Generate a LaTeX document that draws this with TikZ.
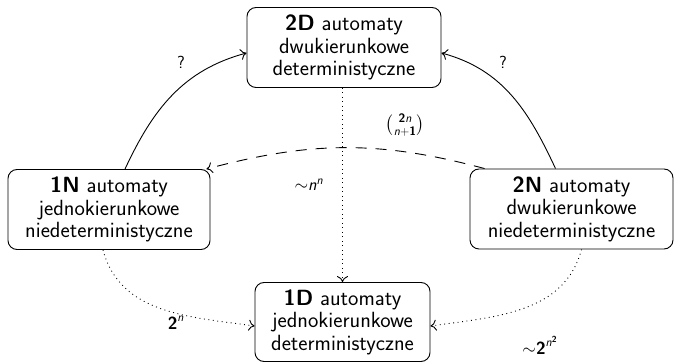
\RequirePackage{fix-cm}
\documentclass[tikz,border=0pt]{standalone}
\usepackage{amsmath}
\usepackage{fontspec}
\usetikzlibrary{arrows.meta}
\tikzset{
  box/.style={draw, rounded corners=9pt, line width=0.9pt, align=center,
    font=\sffamily\fontsize{22}{22.5}\selectfont, minimum height=80pt, inner sep=0pt},
  lbl/.style={font=\sffamily\fontsize{17.5}{19}\selectfont, inner sep=1pt},
  tip/.style={-{Computer Modern Rightarrow[length=6pt,width=11pt]}},
  conn/.style={tip, line width=0.9pt},
  dotconn/.style={tip, line width=0.9pt, dash pattern=on 0.9pt off 3.6pt},
  dashconn/.style={tip, line width=0.9pt, dash pattern=on 11pt off 9pt},
}
\begin{document}
\begin{tikzpicture}[x=1pt,y=1pt]
\useasboundingbox (0,0) rectangle (675,364);
\node[box, minimum width=194pt] (2D) at (344,316.5) {\textbf{2D} automaty\\dwukierunkowe\\deterministyczne};
\node[box, minimum width=202pt] (1N) at (109,154.5) {\textbf{1N} automaty\\jednokierunkowe\\niedeterministyczne};
\node[box, minimum width=203pt] (2N) at (571.5,155) {\textbf{2N} automaty\\dwukierunkowe\\niedeterministyczne};
\node[box, minimum width=175pt, minimum height=79pt] (1D) at (342.5,42) {\textbf{1D} automaty\\jednokierunkowe\\deterministyczne};

\draw[conn] ([xshift=16pt]1N.north) to[out=65,in=195] ([yshift=-5.5pt]2D.west);
\draw[conn] ([xshift=-16pt]2N.north) to[out=115,in=-15] ([yshift=-5.5pt]2D.east);
\draw[dashconn] ([xshift=15pt]2N.north west) to[out=165,in=15] ([xshift=-4pt]1N.north east);
\draw[dotconn] (2D.south -| 1D.north) -- (1D.north);
\draw[dotconn] ([xshift=-6pt]1N.south) to[out=-75,in=172] ([yshift=-4pt]1D.west);
\draw[dotconn] ([xshift=10pt]2N.south) to[out=-105,in=8] ([yshift=-4pt]1D.east);

\node[lbl] (q1) at (181,302) {?};
\node[lbl] (q2) at (503,302) {?};
\node[lbl] (bin) at (405,239) {$\binom{\textbf{2}\textit{n}}{\textit{n}+\textbf{1}}$};
\node[lbl] (nn) at (309,179) {${\sim}\textit{n}^{\textit{n}}$};
\node[lbl] (l2n) at (176,41) {$\textbf{2}^{\textit{n}}$};
\node[lbl] (l2n2) at (540,19) {${\sim}\textbf{2}^{\textit{n}^{\textbf{2}}}$};
\end{tikzpicture}
\end{document}
